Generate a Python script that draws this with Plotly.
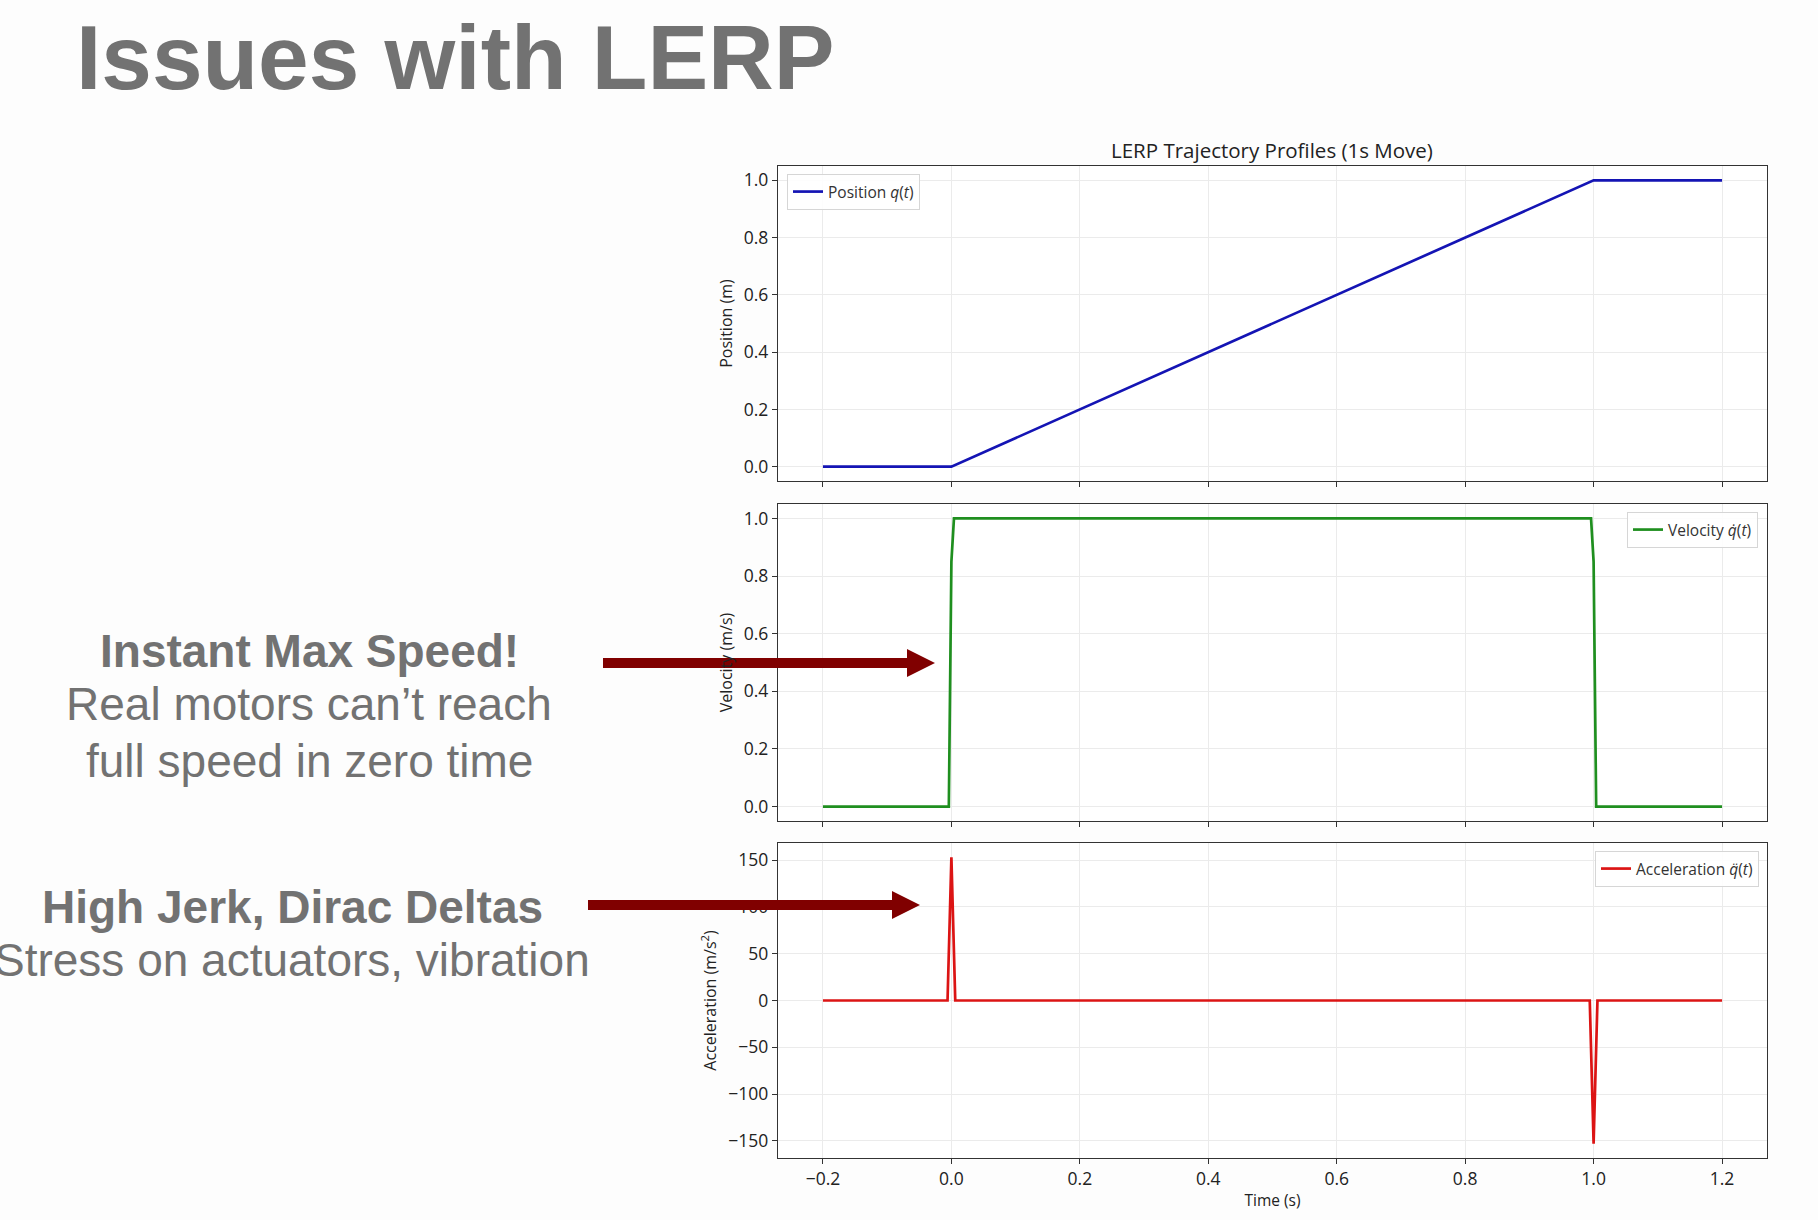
import plotly.graph_objects as go

W, H = 1818, 1220

# ---------------- data ----------------
t_pos = [-0.2, 0.0, 1.0, 1.2]
position = [0.0, 0.0, 1.0, 1.0]

t_vel = [-0.2, -0.004, 0.0, 0.004, 0.996, 1.0, 1.004, 1.2]
velocity = [0.0, 0.0, 0.85, 1.0, 1.0, 0.85, 0.0, 0.0]

t_acc = [-0.2, -0.006, 0.0, 0.006, 0.994, 1.0, 1.006, 1.2]
acceleration = [0.0, 0.0, 153.0, 0.0, 0.0, -153.0, 0.0, 0.0]

x_tickvals = [-0.2, 0.0, 0.2, 0.4, 0.6, 0.8, 1.0, 1.2]
x_ticktext = ["\u22120.2", "0.0", "0.2", "0.4", "0.6", "0.8", "1.0", "1.2"]
unit_tickvals = [0.0, 0.2, 0.4, 0.6, 0.8, 1.0]
unit_ticktext = ["0.0", "0.2", "0.4", "0.6", "0.8", "1.0"]
acc_tickvals = [-150, -100, -50, 0, 50, 100, 150]
acc_ticktext = ["\u2212150", "\u2212100", "\u221250", "0", "50", "100", "150"]

slide_title = "Issues with LERP"
chart_title = "LERP Trajectory Profiles (1s Move)"
note1 = ["Instant Max Speed!", "Real motors can\u2019t reach", "full speed in zero time"]
note2 = ["High Jerk, Dirac Deltas", "Stress on actuators, vibration"]

# ---------------- helpers ----------------
def px(x):
    return x / W

def py(y):
    return 1 - y / H

CHART_FONT = "Open Sans"
SLIDE_FONT = "Liberation Sans"
GRAY = "#727272"
AXC = "#333333"
GRID = "#ebebeb"

xdom = [px(778), px(1767)]
ydoms = [[py(481), py(166)], [py(821), py(504)], [py(1158), py(843)]]

fig = go.Figure()
fig.add_trace(go.Scatter(x=t_pos, y=position, mode="lines",
                         line=dict(color="#1414b4", width=2.7),
                         name="Position <i>q</i>(<i>t</i>)",
                         xaxis="x", yaxis="y", legend="legend"))
fig.add_trace(go.Scatter(x=t_vel, y=velocity, mode="lines",
                         line=dict(color="#1f8f1f", width=2.7),
                         name="Velocity <i>q\u0307</i>(<i>t</i>)",
                         xaxis="x2", yaxis="y2", legend="legend2"))
fig.add_trace(go.Scatter(x=t_acc, y=acceleration, mode="lines",
                         line=dict(color="#dc1414", width=2.7),
                         name="Acceleration <i>q\u0308</i>(<i>t</i>)",
                         xaxis="x3", yaxis="y3", legend="legend3"))

TICKFONT = dict(family=CHART_FONT, size=17.5, color="#222")
common_x = dict(domain=xdom, range=[-0.27, 1.27], tickvals=x_tickvals,
                ticktext=x_ticktext, showgrid=True, gridcolor=GRID, gridwidth=1,
                zeroline=False, showline=True, linecolor=AXC, linewidth=1.3,
                mirror=True, ticks="outside", ticklen=5, tickcolor=AXC,
                automargin=False, tickfont=TICKFONT)
common_y = dict(showgrid=True, gridcolor=GRID, gridwidth=1, zeroline=False,
                showline=True, linecolor=AXC, linewidth=1.3, mirror=True,
                ticks="outside", ticklen=5, tickcolor=AXC, automargin=False,
                tickfont=TICKFONT)
ytitle_font = dict(family=CHART_FONT, size=16, color="#222")
LEGFONT = dict(family=CHART_FONT, size=15.5, color="#333")

fig.update_layout(
    width=W, height=H,
    margin=dict(l=0, r=0, t=0, b=0),
    paper_bgcolor="#fdfdfd", plot_bgcolor="white",
    showlegend=True,
    xaxis=dict(common_x, anchor="y", showticklabels=False),
    xaxis2=dict(common_x, anchor="y2", showticklabels=False),
    xaxis3=dict(common_x, anchor="y3",
                title=dict(text="Time (s)", standoff=5,
                           font=dict(family=CHART_FONT, size=15.5, color="#222"))),
    yaxis=dict(common_y, domain=ydoms[0], anchor="x", range=[-0.05, 1.05],
               tickvals=unit_tickvals, ticktext=unit_ticktext,
               title=dict(text="Position (m)", standoff=7, font=ytitle_font)),
    yaxis2=dict(common_y, domain=ydoms[1], anchor="x2", range=[-0.05, 1.05],
                tickvals=unit_tickvals, ticktext=unit_ticktext,
                title=dict(text="Velocity (m/s)", standoff=7, font=ytitle_font)),
    yaxis3=dict(common_y, domain=ydoms[2], anchor="x3", range=[-168.3, 168.3],
                tickvals=acc_tickvals, ticktext=acc_ticktext,
                title=dict(text="Acceleration (m/s<sup>2</sup>)", standoff=7,
                           font=ytitle_font)),
    legend=dict(x=px(787), y=py(174), xanchor="left", yanchor="top",
                bgcolor="rgba(255,255,255,0.9)", bordercolor="#d6d6d6",
                borderwidth=1, font=LEGFONT, itemwidth=30),
    legend2=dict(x=px(1758), y=py(512), xanchor="right", yanchor="top",
                 bgcolor="rgba(255,255,255,0.9)", bordercolor="#d6d6d6",
                 borderwidth=1, font=LEGFONT, itemwidth=30),
    legend3=dict(x=px(1759), y=py(851), xanchor="right", yanchor="top",
                 bgcolor="rgba(255,255,255,0.9)", bordercolor="#d6d6d6",
                 borderwidth=1, font=LEGFONT, itemwidth=30),
)

annotations = []
# slide title
annotations.append(dict(text="<b>%s</b>" % slide_title, x=px(74), y=py(58),
                        xref="paper", yref="paper", xanchor="left", yanchor="middle",
                        showarrow=False,
                        font=dict(family=SLIDE_FONT, size=91, color=GRAY)))
# chart title
annotations.append(dict(text=chart_title, x=px(1272), y=py(150),
                        xref="paper", yref="paper", xanchor="center", yanchor="middle",
                        showarrow=False,
                        font=dict(family=CHART_FONT, size=20.5, color="#222")))
# note block 1
for i, (line, yc) in enumerate(zip(note1, [651, 704, 761])):
    txt = "<b>%s</b>" % line if i == 0 else line
    annotations.append(dict(text=txt, x=px(309), y=py(yc), xref="paper", yref="paper",
                            xanchor="center", yanchor="middle", showarrow=False,
                            font=dict(family=SLIDE_FONT, size=46, color=GRAY)))
# note block 2
for i, (line, yc) in enumerate(zip(note2, [907, 960])):
    txt = "<b>%s</b>" % line if i == 0 else line
    annotations.append(dict(text=txt, x=px(292), y=py(yc), xref="paper", yref="paper",
                            xanchor="center", yanchor="middle", showarrow=False,
                            font=dict(family=SLIDE_FONT, size=46, color=GRAY)))
fig.update_layout(annotations=annotations)

# arrows (shaft + head polygon), pixel geometry converted to paper
def arrow_path(x0, xh, xt, yc, half_shaft, half_head):
    pts = [(x0, yc - half_shaft), (xh, yc - half_shaft), (xh, yc - half_head),
           (xt, yc), (xh, yc + half_head), (xh, yc + half_shaft), (x0, yc + half_shaft)]
    return "M " + " L ".join("%f,%f" % (px(a), py(b)) for a, b in pts) + " Z"

ARROW = "#800000"
fig.add_shape(type="path", xref="paper", yref="paper",
              path=arrow_path(603, 907, 935, 663, 5, 14),
              fillcolor=ARROW, line=dict(width=0))
fig.add_shape(type="path", xref="paper", yref="paper",
              path=arrow_path(588, 892, 920, 905, 5, 14),
              fillcolor=ARROW, line=dict(width=0))

fig.write_html("out.html")
